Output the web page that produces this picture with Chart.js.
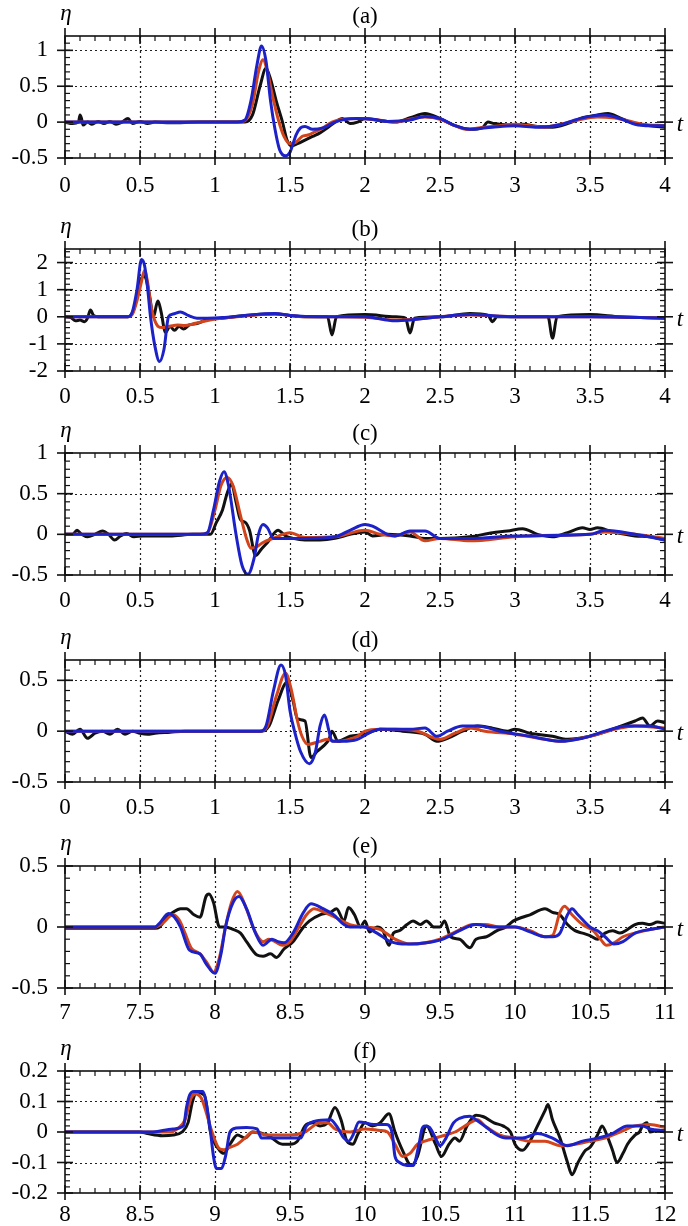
<!DOCTYPE html>
<html>
<head>
<meta charset="utf-8">
<script src="https://cdn.jsdelivr.net/npm/chart.js@4.4.1/dist/chart.umd.min.js"></script>
<style>
  html, body { margin: 0; padding: 0; background: #fff; width: 688px; height: 1226px; overflow: hidden; }
  .panel { position: absolute; left: 0; width: 688px; height: 200px; }
</style>
</head>
<body>
<div class="panel" style="top:0px"><canvas id="pa" width="688" height="200"></canvas></div>
<div class="panel" style="top:213px"><canvas id="pb" width="688" height="200"></canvas></div>
<div class="panel" style="top:417px"><canvas id="pc" width="688" height="200"></canvas></div>
<div class="panel" style="top:624px"><canvas id="pd" width="688" height="200"></canvas></div>
<div class="panel" style="top:830px"><canvas id="pe" width="688" height="200"></canvas></div>
<div class="panel" style="top:1035px"><canvas id="pf" width="688" height="200"></canvas></div>
<script>
// ---- tick labels ----
const ticks0to4 = [0, 0.5, 1, 1.5, 2, 2.5, 3, 3.5, 4];
const ticks7to11 = [7, 7.5, 8, 8.5, 9, 9.5, 10, 10.5, 11];
const ticks8to12 = [8, 8.5, 9, 9.5, 10, 10.5, 11, 11.5, 12];

const aTicksY = [-0.5, 0, 0.5, 1];
const bTicksY = [-2, -1, 0, 1, 2];
const cTicksY = [-0.5, 0, 0.5, 1];
const dTicksY = [-0.5, 0, 0.5];
const eTicksY = [-0.5, 0, 0.5];
const fTicksY = [-0.2, -0.1, 0, 0.1, 0.2];

const panelLabels = ['(a)', '(b)', '(c)', '(d)', '(e)', '(f)'];

// ---- series, [t, eta] ----
const aBlack = [[0,0],[0.05,-0.02],[0.09,0],[0.1,0.1],[0.11,0.05],[0.12,-0.04],[0.15,0],[0.18,-0.03],[0.22,0.01],[0.26,-0.02],[0.3,0.01],[0.34,-0.03],[0.38,0],[0.42,0.05],[0.45,-0.02],[0.5,0.01],[0.55,-0.02],[0.6,0],[0.7,-0.01],[0.9,0],[1.2,0],[1.25,0.1],[1.3,0.5],[1.34,0.75],[1.37,0.6],[1.41,0.28],[1.45,0],[1.48,-0.25],[1.51,-0.33],[1.55,-0.3],[1.6,-0.25],[1.65,-0.2],[1.7,-0.15],[1.75,-0.08],[1.8,0],[1.85,0.05],[1.9,-0.02],[1.95,0],[2,0.05],[2.1,0.02],[2.2,0],[2.3,0.06],[2.4,0.12],[2.5,0.05],[2.6,-0.05],[2.7,-0.1],[2.78,-0.08],[2.82,0],[2.86,-0.02],[2.95,-0.04],[3.05,-0.03],[3.15,-0.06],[3.25,-0.07],[3.35,-0.02],[3.45,0.06],[3.55,0.1],[3.62,0.12],[3.7,0.06],[3.8,-0.02],[3.9,-0.05],[4,-0.07]];
const aRed = [[0,0],[1.15,0],[1.2,0.02],[1.25,0.25],[1.29,0.7],[1.32,0.87],[1.35,0.7],[1.38,0.4],[1.42,0.05],[1.46,-0.2],[1.5,-0.3],[1.54,-0.28],[1.58,-0.2],[1.62,-0.18],[1.67,-0.13],[1.72,-0.08],[1.78,0],[1.85,0.04],[1.95,0.05],[2.05,0.04],[2.2,0],[2.3,0.04],[2.4,0.07],[2.5,0.04],[2.6,-0.05],[2.68,-0.1],[2.8,-0.07],[2.9,-0.05],[3,-0.03],[3.1,-0.05],[3.2,-0.07],[3.3,-0.03],[3.4,0.02],[3.55,0.07],[3.65,0.06],[3.75,0.02],[3.85,-0.03],[4,-0.05]];
const aBlue = [[0,0],[1.15,0],[1.2,0.03],[1.24,0.3],[1.28,0.8],[1.31,1.06],[1.34,0.85],[1.37,0.3],[1.4,-0.1],[1.43,-0.38],[1.47,-0.47],[1.5,-0.42],[1.54,-0.18],[1.57,-0.08],[1.6,-0.06],[1.65,-0.1],[1.72,-0.08],[1.8,0],[1.87,0.04],[1.95,0.05],[2.05,0.04],[2.15,0.01],[2.3,0.03],[2.4,0.08],[2.5,0.05],[2.6,-0.05],[2.7,-0.1],[2.85,-0.07],[3,-0.05],[3.15,-0.07],[3.3,-0.04],[3.4,0.03],[3.5,0.08],[3.6,0.1],[3.7,0.05],[3.8,-0.03],[3.9,-0.05],[4,-0.05]];

const bBlack = [[0,0],[0.04,-0.03],[0.07,-0.15],[0.1,-0.12],[0.13,-0.18],[0.15,-0.05],[0.17,0.25],[0.19,0.05],[0.22,0],[0.42,0],[0.46,0.3],[0.5,1.3],[0.53,1.5],[0.56,0.9],[0.59,0],[0.61,0.45],[0.62,0.58],[0.64,0.2],[0.67,-0.58],[0.7,-0.35],[0.73,-0.5],[0.76,-0.35],[0.79,-0.45],[0.83,-0.3],[0.88,-0.25],[0.95,-0.1],[1.05,-0.05],[1.2,0.05],[1.4,0.1],[1.5,0.05],[1.6,0],[1.75,0],[1.78,-0.67],[1.81,0],[2,0.08],[2.2,0],[2.27,-0.05],[2.3,-0.6],[2.33,-0.05],[2.5,0],[2.7,0.12],[2.82,0.05],[2.85,-0.18],[2.88,0],[3,0],[3.22,0],[3.25,-0.79],[3.28,0],[3.5,0.08],[3.7,0],[4,-0.05]];
const bRed = [[0,0],[0.42,0],[0.45,0.1],[0.48,0.6],[0.51,1.3],[0.53,1.71],[0.55,1.3],[0.57,0.5],[0.59,0],[0.62,-0.35],[0.65,-0.4],[0.7,-0.35],[0.75,-0.3],[0.8,-0.32],[0.85,-0.27],[0.9,-0.2],[1,-0.08],[1.2,0.03],[1.4,0.1],[1.6,0],[1.8,0],[2,-0.02],[2.2,-0.12],[2.35,-0.08],[2.5,0],[2.7,0.07],[2.9,0.02],[3.1,0],[3.5,0],[4,-0.05]];
const bBlue = [[0,0],[0.42,0],[0.45,0.2],[0.48,1],[0.51,2.11],[0.53,1.9],[0.55,1.1],[0.57,0],[0.6,-1.1],[0.63,-1.65],[0.66,-1.2],[0.69,0],[0.72,0.1],[0.77,0.18],[0.82,0.05],[0.88,-0.05],[0.95,-0.05],[1.05,-0.03],[1.2,0.05],[1.4,0.12],[1.5,0.05],[1.7,0],[2,0],[2.2,-0.15],[2.3,-0.12],[2.5,0],[2.7,0.08],[3,0],[3.5,0],[4,-0.05]];

const cBlack = [[0,0],[0.05,0],[0.08,0.05],[0.11,0],[0.15,-0.03],[0.2,0],[0.25,0.04],[0.29,0],[0.33,-0.07],[0.37,-0.02],[0.41,0.01],[0.46,-0.03],[0.52,-0.02],[0.6,-0.02],[0.7,-0.02],[0.85,0],[0.97,0],[1.01,0.15],[1.05,0.3],[1.08,0.5],[1.11,0.62],[1.14,0.4],[1.17,0.18],[1.2,0.15],[1.23,0.05],[1.27,-0.26],[1.31,-0.18],[1.35,-0.1],[1.42,0.05],[1.47,-0.02],[1.52,-0.05],[1.6,-0.07],[1.7,-0.07],[1.8,-0.05],[1.9,0],[2,0.03],[2.05,-0.02],[2.15,0],[2.3,-0.02],[2.4,-0.05],[2.5,-0.05],[2.7,-0.03],[2.85,0.02],[2.95,0.04],[3.05,0.07],[3.15,0],[3.25,-0.03],[3.35,0.02],[3.45,0.08],[3.5,0.06],[3.55,0.08],[3.65,0.03],[3.8,-0.02],[3.9,-0.03],[4,-0.07]];
const cRed = [[0,0],[0.9,0],[0.95,0.02],[1,0.3],[1.04,0.6],[1.08,0.7],[1.12,0.6],[1.17,0.23],[1.21,-0.05],[1.24,-0.17],[1.28,-0.15],[1.32,-0.1],[1.4,-0.04],[1.45,0],[1.5,0.02],[1.6,-0.04],[1.8,-0.03],[2,0.05],[2.1,0],[2.2,-0.02],[2.3,0.03],[2.4,-0.08],[2.5,-0.05],[2.7,-0.08],[3,-0.03],[3.3,-0.01],[3.5,0],[3.6,0.03],[3.8,0],[4,-0.05]];
const cBlue = [[0,0],[0.9,0],[0.95,0.02],[0.99,0.3],[1.03,0.65],[1.06,0.77],[1.09,0.6],[1.14,0],[1.18,-0.38],[1.22,-0.49],[1.26,-0.3],[1.29,0],[1.32,0.12],[1.35,0.08],[1.39,-0.05],[1.5,-0.05],[1.6,-0.05],[1.8,-0.03],[1.9,0.05],[2,0.12],[2.05,0.1],[2.15,0],[2.2,-0.02],[2.3,0.04],[2.4,0.04],[2.5,-0.05],[2.7,-0.05],[3,-0.02],[3.5,0],[3.6,0.05],[3.8,0],[4,-0.07]];

const dBlack = [[0,0],[0.05,-0.03],[0.1,0.02],[0.15,-0.07],[0.2,-0.02],[0.25,0],[0.3,-0.03],[0.35,0.02],[0.4,-0.03],[0.45,0],[0.5,-0.02],[0.55,-0.03],[0.6,-0.02],[0.7,-0.01],[0.8,0],[1.3,0],[1.36,0.05],[1.42,0.3],[1.48,0.48],[1.52,0.3],[1.55,0.12],[1.6,0.1],[1.64,-0.26],[1.68,-0.2],[1.72,-0.15],[1.76,-0.08],[1.78,0],[1.82,-0.1],[1.9,-0.05],[2,-0.03],[2.1,0.02],[2.25,0],[2.4,-0.03],[2.48,-0.1],[2.55,-0.07],[2.65,0],[2.75,0.05],[2.85,0.03],[2.95,0],[3,0.02],[3.1,-0.02],[3.25,-0.05],[3.35,-0.08],[3.5,-0.05],[3.65,0.02],[3.8,0.1],[3.85,0.13],[3.9,0.05],[3.95,0.1],[4,0.08]];
const dRed = [[0,0],[1.3,0],[1.35,0.05],[1.41,0.35],[1.47,0.57],[1.51,0.4],[1.55,0.1],[1.58,-0.05],[1.62,-0.13],[1.7,-0.1],[1.75,-0.08],[1.8,-0.1],[1.95,-0.05],[2,0],[2.1,0.02],[2.2,0.02],[2.35,0],[2.5,-0.08],[2.6,-0.02],[2.7,0.03],[2.8,0],[3,-0.03],[3.2,-0.08],[3.3,-0.1],[3.5,-0.05],[3.7,0.03],[3.8,0.05],[4,0.03]];
const dBlue = [[0,0],[1.3,0],[1.34,0.05],[1.39,0.4],[1.44,0.65],[1.47,0.55],[1.5,0.2],[1.53,0],[1.57,-0.2],[1.63,-0.32],[1.67,-0.2],[1.7,0.05],[1.73,0.16],[1.76,0],[1.78,-0.1],[1.85,-0.1],[1.95,-0.08],[2.05,0],[2.1,0.02],[2.3,0.02],[2.4,0.03],[2.48,-0.05],[2.55,0],[2.65,0.05],[2.75,0.05],[2.9,0],[3.1,-0.05],[3.3,-0.1],[3.45,-0.07],[3.6,0],[3.75,0.05],[3.9,0.05],[4,0.02]];

const eBlack = [[7,-0.01],[7.6,-0.01],[7.63,0],[7.68,0.08],[7.72,0.12],[7.77,0.15],[7.81,0.15],[7.86,0.1],[7.9,0.08],[7.94,0.25],[7.96,0.27],[7.99,0.2],[8.03,0],[8.07,0],[8.12,-0.02],[8.17,-0.05],[8.21,-0.12],[8.28,-0.23],[8.32,-0.24],[8.37,-0.22],[8.41,-0.25],[8.46,-0.18],[8.52,-0.12],[8.59,0],[8.63,0.05],[8.7,0.1],[8.77,0.12],[8.81,0.15],[8.86,0.05],[8.89,0.16],[8.93,0.1],[8.97,0],[9,0.05],[9.03,-0.04],[9.08,0],[9.12,-0.03],[9.16,-0.15],[9.19,-0.05],[9.23,-0.03],[9.28,0.02],[9.32,0.05],[9.37,0.02],[9.41,0.05],[9.46,0],[9.5,0],[9.53,0.05],[9.57,-0.08],[9.63,-0.1],[9.7,-0.17],[9.74,-0.1],[9.81,-0.08],[9.88,-0.03],[9.94,0],[9.99,0.05],[10.05,0.08],[10.1,0.1],[10.2,0.15],[10.25,0.12],[10.3,0.1],[10.35,0.02],[10.4,-0.03],[10.45,-0.05],[10.5,-0.07],[10.55,-0.1],[10.6,-0.05],[10.65,-0.03],[10.7,-0.05],[10.75,-0.02],[10.8,0.02],[10.85,0.03],[10.9,0.02],[10.95,0.04],[11,0.03]];
const eRed = [[7,0],[7.6,0],[7.65,0.03],[7.72,0.1],[7.76,0.06],[7.8,-0.05],[7.84,-0.17],[7.9,-0.22],[7.95,-0.3],[7.99,-0.37],[8.03,-0.25],[8.07,0],[8.11,0.2],[8.15,0.29],[8.2,0.18],[8.26,-0.02],[8.32,-0.12],[8.36,-0.1],[8.4,-0.12],[8.45,-0.15],[8.5,-0.12],[8.56,0],[8.61,0.1],[8.66,0.15],[8.73,0.12],[8.8,0.08],[8.9,0.02],[9,0],[9.1,-0.02],[9.2,-0.1],[9.3,-0.14],[9.5,-0.1],[9.62,-0.03],[9.72,0.02],[9.8,0.02],[9.9,0],[10,0],[10.1,-0.03],[10.2,-0.08],[10.25,-0.07],[10.3,0.12],[10.33,0.17],[10.38,0.1],[10.45,0.02],[10.52,-0.03],[10.57,-0.1],[10.61,-0.15],[10.66,-0.13],[10.72,-0.08],[10.8,-0.05],[10.9,-0.02],[11,0]];
const eBlue = [[7,0],[7.6,0],[7.63,0.03],[7.69,0.11],[7.73,0.08],[7.77,0],[7.83,-0.19],[7.9,-0.22],[7.94,-0.3],[8,-0.38],[8.04,-0.22],[8.07,0],[8.12,0.2],[8.16,0.25],[8.21,0.15],[8.27,-0.05],[8.32,-0.15],[8.38,-0.1],[8.42,-0.12],[8.46,-0.13],[8.52,-0.05],[8.59,0.12],[8.64,0.19],[8.72,0.15],[8.79,0.1],[8.86,0.02],[8.9,0],[8.99,0],[9.08,-0.05],[9.17,-0.12],[9.28,-0.14],[9.41,-0.13],[9.52,-0.1],[9.63,-0.03],[9.74,0.02],[9.86,0],[10,0],[10.1,-0.04],[10.2,-0.08],[10.25,-0.08],[10.3,-0.05],[10.35,0.1],[10.38,0.15],[10.42,0.1],[10.5,0],[10.55,-0.03],[10.6,-0.08],[10.66,-0.14],[10.72,-0.12],[10.8,-0.05],[10.9,-0.02],[11,0]];

const fBlack = [[8,0],[8.5,0],[8.55,-0.005],[8.65,-0.012],[8.72,-0.01],[8.78,0],[8.82,0.03],[8.85,0.1],[8.88,0.13],[8.93,0.12],[8.97,0],[9.03,-0.06],[9.06,-0.07],[9.1,-0.04],[9.15,-0.01],[9.2,-0.02],[9.25,0],[9.35,-0.01],[9.45,-0.04],[9.5,-0.04],[9.55,-0.03],[9.6,0.02],[9.65,0.03],[9.7,0.02],[9.75,0.03],[9.8,0.08],[9.84,0.04],[9.88,-0.03],[9.92,-0.04],[9.95,-0.01],[10,0.03],[10.05,0.02],[10.1,0.03],[10.16,0.06],[10.2,0],[10.25,-0.06],[10.31,-0.11],[10.35,-0.08],[10.41,0.02],[10.47,-0.04],[10.51,-0.08],[10.56,-0.04],[10.6,-0.02],[10.63,-0.03],[10.68,0.02],[10.74,0.055],[10.79,0.05],[10.86,0.03],[10.92,0.02],[10.97,0],[11,-0.04],[11.05,-0.06],[11.1,-0.03],[11.15,0.02],[11.2,0.07],[11.22,0.09],[11.25,0.04],[11.3,-0.02],[11.35,-0.1],[11.38,-0.14],[11.42,-0.1],[11.47,-0.06],[11.5,-0.05],[11.55,-0.01],[11.58,0.02],[11.62,-0.02],[11.65,-0.06],[11.68,-0.1],[11.72,-0.07],[11.75,-0.04],[11.8,-0.01],[11.83,0],[11.85,0.02],[11.88,0.03],[11.9,0],[11.95,0.005],[12,0]];
const fRed = [[8,0],[8.7,0],[8.75,0.01],[8.8,0.04],[8.84,0.11],[8.87,0.125],[8.91,0.11],[8.95,0.05],[8.98,0],[9.03,-0.055],[9.06,-0.058],[9.1,-0.05],[9.15,-0.04],[9.2,-0.02],[9.25,0],[9.35,-0.01],[9.45,-0.01],[9.5,-0.01],[9.6,0],[9.7,0.03],[9.75,0.03],[9.8,0.01],[9.9,0],[10,0.01],[10.1,0.005],[10.15,0],[10.2,-0.04],[10.25,-0.08],[10.3,-0.07],[10.35,-0.04],[10.4,-0.03],[10.5,-0.015],[10.6,0],[10.7,0.03],[10.75,0.04],[10.8,0.02],[10.9,-0.01],[11,-0.02],[11.1,-0.03],[11.2,-0.03],[11.3,-0.045],[11.4,-0.04],[11.5,-0.03],[11.6,-0.02],[11.7,0],[11.8,0.02],[11.9,0.025],[12,0.015]];
const fBlue = [[8,0],[8.57,0],[8.72,0.01],[8.79,0.02],[8.81,0.08],[8.83,0.12],[8.86,0.133],[8.92,0.133],[8.94,0.1],[8.97,0],[8.99,-0.08],[9.01,-0.12],[9.04,-0.12],[9.07,-0.08],[9.1,0],[9.14,0.013],[9.21,0.015],[9.28,0.01],[9.31,-0.02],[9.39,-0.02],[9.5,-0.02],[9.57,-0.02],[9.61,0.02],[9.66,0.035],[9.77,0.04],[9.81,0.02],[9.86,-0.02],[9.89,-0.03],[9.92,-0.01],[9.96,0.033],[10.06,0.025],[10.14,0.025],[10.18,0],[10.2,-0.08],[10.23,-0.1],[10.28,-0.11],[10.32,-0.11],[10.36,-0.04],[10.38,0.01],[10.4,0.02],[10.43,0.015],[10.48,-0.03],[10.5,-0.045],[10.54,-0.02],[10.59,0.03],[10.63,0.045],[10.7,0.052],[10.74,0.04],[10.81,0.015],[10.88,-0.01],[10.94,-0.02],[11.05,-0.02],[11.15,-0.005],[11.25,-0.02],[11.35,-0.045],[11.45,-0.03],[11.55,-0.02],[11.65,-0.005],[11.75,0.02],[11.85,0.02],[11.9,0.01],[12,0.005]];

const BLACK = '#111111';
const RED = '#d2451c';
const BLUE = '#1c22c8';
const SERIF = "'Liberation Serif', 'Times New Roman', serif";

const toXY = pts => pts.map(p => ({ x: p[0], y: p[1] }));

function framePlugin(cfg) {
  const line = (ctx, x1, y1, x2, y2) => { ctx.beginPath(); ctx.moveTo(x1, y1); ctx.lineTo(x2, y2); ctx.stroke(); };
  return {
    id: 'frame',
    beforeDatasetsDraw(chart) {
      const { ctx, chartArea: { left, right, top, bottom }, scales: { x, y } } = chart;
      ctx.save();
      ctx.strokeStyle = '#222';
      ctx.lineWidth = 1.2;
      ctx.setLineDash([2, 3]);
      cfg.xTicks.forEach(v => {
        if (v <= x.min || v >= x.max) return;
        const px = Math.round(x.getPixelForValue(v)) + 0.5;
        line(ctx, px, top, px, bottom);
      });
      cfg.yTicks.forEach(v => {
        if (v <= y.min || v >= y.max) return;
        const py = Math.round(y.getPixelForValue(v)) + 0.5;
        line(ctx, left, py, right, py);
      });
      ctx.restore();
    },
    afterDatasetsDraw(chart) {
      const { ctx, chartArea: { left, right, top, bottom }, scales: { x, y } } = chart;
      ctx.save();
      ctx.strokeStyle = '#111';
      ctx.lineWidth = 1.6;
      ctx.strokeRect(left, top, right - left, bottom - top);
      // major ticks cross the frame
      cfg.xTicks.forEach(v => {
        const px = x.getPixelForValue(v);
        line(ctx, px, top - 8, px, top + 8);
        line(ctx, px, bottom - 8, px, bottom + 7);
      });
      cfg.yTicks.forEach(v => {
        const py = y.getPixelForValue(v);
        line(ctx, left - 8, py, left + 8, py);
        line(ctx, right - 8, py, right + 8, py);
      });
      // minor ticks inside
      ctx.lineWidth = 1.2;
      const nx = Math.round((x.max - x.min) / cfg.xMinor);
      for (let i = 1; i < nx; i++) {
        const px = x.getPixelForValue(x.min + i * cfg.xMinor);
        line(ctx, px, top, px, top + 5);
        line(ctx, px, bottom - 5, px, bottom);
      }
      const ny = Math.round((y.max - y.min) / cfg.yMinor);
      for (let i = 1; i < ny; i++) {
        const py = y.getPixelForValue(y.min + i * cfg.yMinor);
        line(ctx, left, py, left + 5, py);
        line(ctx, right - 5, py, right, py);
      }
      ctx.restore();
    },
    afterDraw(chart) {
      const { ctx, chartArea: { left, right }, scales: { y } } = chart;
      ctx.save();
      ctx.fillStyle = '#000';
      ctx.textAlign = 'center';
      ctx.textBaseline = 'middle';
      ctx.font = '23px ' + SERIF;
      ctx.fillText(cfg.label, (left + right) / 2, 17);
      ctx.font = 'italic 23px ' + SERIF;
      ctx.fillText('\u03b7', 66, 14);
      ctx.fillText('t', 680, y.getPixelForValue(0) + 3);
      ctx.restore();
    }
  };
}

function makePanel(id, cfg) {
  const tickFont = { family: SERIF, size: 23 };
  new Chart(document.getElementById(id), {
    type: 'line',
    data: {
      datasets: [
        { data: toXY(cfg.blue), borderColor: BLUE },
        { data: toXY(cfg.red), borderColor: RED },
        { data: toXY(cfg.black), borderColor: BLACK }
      ]
    },
    options: {
      responsive: false,
      animation: false,
      events: [],
      layout: { padding: { top: 36, right: 23, left: 0, bottom: 0 } },
      elements: {
        point: { radius: 0 },
        line: { borderWidth: 3, cubicInterpolationMode: 'monotone', fill: false }
      },
      plugins: { legend: { display: false }, tooltip: { enabled: false } },
      scales: {
        x: {
          type: 'linear',
          min: cfg.xTicks[0],
          max: cfg.xTicks[cfg.xTicks.length - 1],
          afterBuildTicks: s => { s.ticks = cfg.xTicks.map(v => ({ value: v })); },
          afterFit: s => { s.height = 42; },
          grid: { display: false, drawTicks: false },
          border: { display: false },
          ticks: { color: '#000', font: tickFont, padding: cfg.xPad, maxRotation: 0, autoSkip: false, callback: v => String(v) }
        },
        y: {
          type: 'linear',
          min: cfg.yMin,
          max: cfg.yMax,
          afterBuildTicks: s => { s.ticks = cfg.yTicks.map(v => ({ value: v })); },
          afterFit: s => { s.width = 65; },
          grid: { display: false, drawTicks: false },
          border: { display: false },
          ticks: { color: '#000', font: tickFont, padding: 17, autoSkip: false, callback: v => String(v) }
        }
      }
    },
    plugins: [framePlugin(cfg)]
  });
}

makePanel('pa', { label: panelLabels[0], black: aBlack, red: aRed, blue: aBlue, xTicks: ticks0to4, yTicks: aTicksY, yMin: -0.5, yMax: 1.2, xMinor: 0.1, yMinor: 0.1, xPad: 14 });
makePanel('pb', { label: panelLabels[1], black: bBlack, red: bRed, blue: bBlue, xTicks: ticks0to4, yTicks: bTicksY, yMin: -2, yMax: 2.5, xMinor: 0.1, yMinor: 0.2, xPad: 12 });
makePanel('pc', { label: panelLabels[2], black: cBlack, red: cRed, blue: cBlue, xTicks: ticks0to4, yTicks: cTicksY, yMin: -0.5, yMax: 1, xMinor: 0.1, yMinor: 0.1, xPad: 12 });
makePanel('pd', { label: panelLabels[3], black: dBlack, red: dRed, blue: dBlue, xTicks: ticks0to4, yTicks: dTicksY, yMin: -0.5, yMax: 0.7, xMinor: 0.1, yMinor: 0.1, xPad: 12 });
makePanel('pe', { label: panelLabels[4], black: eBlack, red: eRed, blue: eBlue, xTicks: ticks7to11, yTicks: eTicksY, yMin: -0.5, yMax: 0.5, xMinor: 0.1, yMinor: 0.1, xPad: 11 });
makePanel('pf', { label: panelLabels[5], black: fBlack, red: fRed, blue: fBlue, xTicks: ticks8to12, yTicks: fTicksY, yMin: -0.2, yMax: 0.2, xMinor: 0.1, yMinor: 0.02, xPad: 8 });
</script>
</body>
</html>
